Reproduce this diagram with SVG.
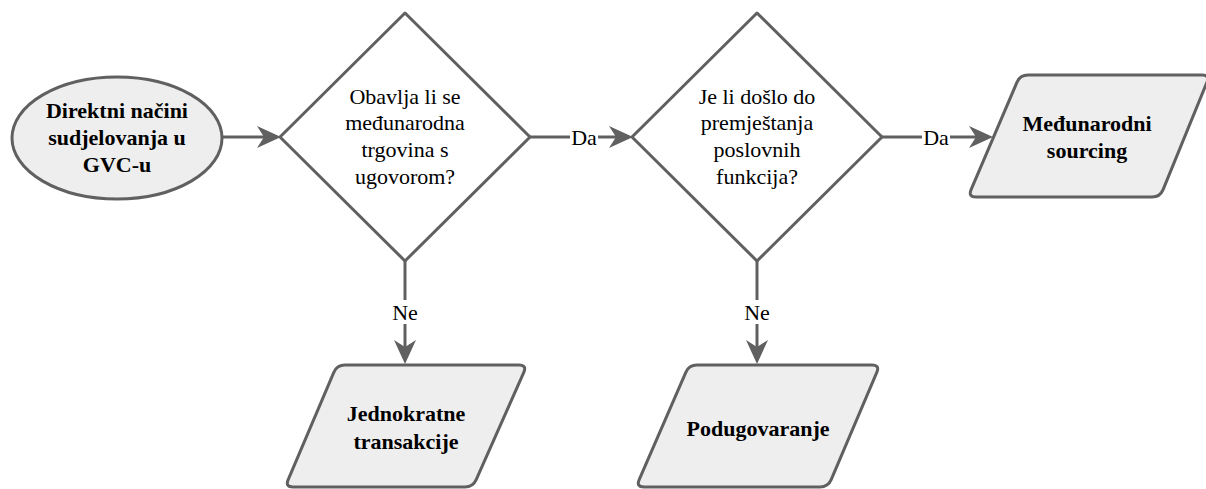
<svg xmlns="http://www.w3.org/2000/svg" width="1206" height="489" viewBox="0 0 1206 489">
<style>
.shape{stroke:#606060;stroke-width:3;stroke-linejoin:round}
.fillg{fill:#eeeeee}
.fillw{fill:#ffffff}
.t{font-family:'Liberation Serif','Times New Roman',Tinos,'DejaVu Serif',serif;font-size:22px;fill:#000;text-anchor:middle}
.b{font-weight:bold}
.edge{stroke:#606060;stroke-width:3;fill:none}
.lbl{fill:#ffffff}
</style>
<defs>
<marker id="arr" viewBox="0 0 24 22" refX="11" refY="11" markerWidth="24" markerHeight="22" markerUnits="userSpaceOnUse" orient="auto">
<path d="M0,0 L24,11 L0,22 L7,11 Z" fill="#606060"/>
</marker>
</defs>
<g id="connectors">
<line class="edge" x1="222" y1="137" x2="268" y2="137" marker-end="url(#arr)"/>
<line class="edge" x1="530" y1="137" x2="620" y2="137" marker-end="url(#arr)"/>
<line class="edge" x1="882" y1="137" x2="980" y2="137" marker-end="url(#arr)"/>
<line class="edge" x1="405" y1="261" x2="405" y2="351" marker-end="url(#arr)"/>
<line class="edge" x1="757" y1="261" x2="757" y2="351" marker-end="url(#arr)"/>
<rect class="lbl" x="570" y="126" width="28" height="22"/>
<text class="t" x="584" y="145">Da</text>
<rect class="lbl" x="922" y="126" width="28" height="22"/>
<text class="t" x="936" y="145">Da</text>
<rect class="lbl" x="390" y="300" width="30" height="24"/>
<text class="t" x="405" y="320">Ne</text>
<rect class="lbl" x="742" y="300" width="30" height="24"/>
<text class="t" x="757" y="320">Ne</text>
</g>
<g id="start">
<ellipse class="shape fillg" cx="117" cy="138" rx="105" ry="61"/>
<text class="t b" x="117" y="118">Direktni načini</text>
<text class="t b" x="117" y="145">sudjelovanja u</text>
<text class="t b" x="117" y="172">GVC-u</text>
</g>
<g id="decision1">
<path class="shape fillw" d="M405,13 L530,137 L405,261 L280,137 Z"/>
<text class="t" x="405" y="104">Obavlja li se</text>
<text class="t" x="405" y="130">međunarodna</text>
<text class="t" x="405" y="157">trgovina s</text>
<text class="t" x="405" y="184">ugovorom?</text>
</g>
<g id="decision2">
<path class="shape fillw" d="M757,13 L882,137 L757,261 L632,137 Z"/>
<text class="t" x="757" y="104">Je li došlo do</text>
<text class="t" x="757" y="130">premještanja</text>
<text class="t" x="757" y="157">poslovnih</text>
<text class="t" x="757" y="184">funkcija?</text>
</g>
<g id="sourcing">
<path class="shape fillg" d="M1028,75 L1202,75 Q1210,75 1206.9,82.4 L1163.1,189.6 Q1160,197 1152,197 L976,197 Q968,197 971.1,189.6 L1016.9,82.4 Q1020,75 1028,75 Z"/>
<text class="t b" x="1087" y="131">Međunarodni</text>
<text class="t b" x="1087" y="158">sourcing</text>
</g>
<g id="jednokratne">
<path class="shape fillg" d="M345,365 L519,365 Q527,365 523.8,372.3 L476.2,479.7 Q473,487 465,487 L293,487 Q285,487 288.2,479.7 L333.8,372.3 Q337,365 345,365 Z"/>
<text class="t b" x="406" y="421">Jednokratne</text>
<text class="t b" x="406" y="449">transakcije</text>
</g>
<g id="podugovaranje">
<path class="shape fillg" d="M697,365 L872,365 Q880,365 876.8,372.3 L831.2,479.7 Q828,487 820,487 L644,487 Q636,487 639.2,479.7 L685.8,372.3 Q689,365 697,365 Z"/>
<text class="t b" x="758" y="436">Podugovaranje</text>
</g>
</svg>
